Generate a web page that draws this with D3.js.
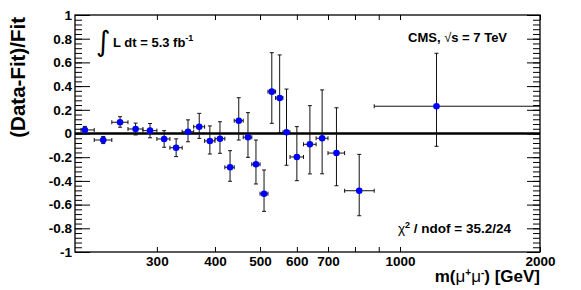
<!DOCTYPE html>
<meta charset="utf-8">
<html lang="en">
<head>
    <title>Data-Fit ratio</title>
    <script src="https://cdn.jsdelivr.net/npm/d3@7"></script>
</head>
<style>
    body{ margin: 0; background: white; }
    svg{ display: block; }
    text{
        font-family: "Liberation Sans", Arial, sans-serif;
        font-weight: bold;
        fill: black;
    }
    .axis line{ stroke: black; }
    .axis path{ display: none; }
</style>
<body>
<svg width="581" height="290"></svg>
<script>

    // dimuon mass bins (GeV)
    const mass    = [210,230,250,270,290,311,330,350,370,390,410,431,450,471,490,510,530,551,570,600,640,680,730,817,1198]
    const massLo  = [206,220,240,260,280,300,320,340,360,380,400,420,440,460,480,500,520,540,560,580,620,660,700,760,880]
    const massHi  = [220,240,260,280,300,320,340,360,380,400,420,440,460,480,500,520,540,560,580,620,660,700,760,880,3000]
    // (Data-Fit)/Fit
    const ratio   = [0.03,-0.055,0.095,0.038,0.024,-0.046,-0.12,0.015,0.057,-0.063,-0.044,-0.285,0.108,-0.032,-0.26,-0.508,0.353,0.30,0.01,-0.198,-0.091,-0.04,-0.165,-0.483,0.23]
    const errUp   = [0.03,0.03,0.047,0.05,0.06,0.07,0.075,0.1,0.113,0.127,0.143,0.14,0.194,0.208,0.205,0.2,0.329,0.363,0.365,0.256,0.326,0.408,0.382,0.307,0.447]
    const errDown = [0.03,0.03,0.042,0.05,0.06,0.07,0.075,0.085,0.098,0.11,0.123,0.118,0.163,0.169,0.166,0.149,0.267,0.293,0.278,0.2,0.25,0.3,0.276,0.211,0.338]

    const xTicks = [300,400,500,600,700,800,900,1000,2000]
    const xLabels = [300,400,500,600,700,1000,2000]
    const yLabels = [-1,-0.8,-0.6,-0.4,-0.2,0,0.2,0.4,0.6,0.8,1]

    const L = 75, R = 540, T = 15, B = 252

    const svg = d3.select("svg")

    const x = d3.scaleLog().domain([200, 2000]).range([L, R])
    const y = d3.scaleLinear().domain([-1, 1]).range([B, T])

    const yMinor = d3.range(-25, 26).map(i => +(i * 0.04).toFixed(2))

    // axes (ticks pointing inward)
    svg.append("g").attr("class","axis").attr("transform",`translate(0,${B})`)
        .call(d3.axisBottom(x).tickValues(xTicks).tickSize(-5).tickPadding(4)
            .tickFormat(d => xLabels.includes(d) ? d : ""))
        .call(g => g.selectAll("text").style("font-size","13.5px"))
    svg.append("g").attr("class","axis").attr("transform",`translate(0,${T})`)
        .call(d3.axisTop(x).tickValues(xTicks).tickSize(-5).tickFormat(""))

    svg.append("g").attr("class","axis").attr("transform",`translate(${L},0)`)
        .call(d3.axisLeft(y).tickValues(yMinor).tickSize(-7).tickFormat(""))
    svg.append("g").attr("class","axis").attr("transform",`translate(${L},0)`)
        .call(d3.axisLeft(y).tickValues(yLabels).tickSize(-15).tickPadding(3)
            .tickFormat(d => String(d)))
        .call(g => g.selectAll("text").style("font-size","13.5px"))
    svg.append("g").attr("class","axis").attr("transform",`translate(${R},0)`)
        .call(d3.axisRight(y).tickValues(yMinor).tickSize(-7).tickFormat(""))
    svg.append("g").attr("class","axis").attr("transform",`translate(${R},0)`)
        .call(d3.axisRight(y).tickValues(yLabels).tickSize(-13).tickFormat(""))

    // frame
    svg.append("rect").attr("x", L).attr("y", T).attr("width", R - L).attr("height", B - T)
        .attr("fill","none").attr("stroke","black").attr("stroke-width",1.3)

    svg.append("clipPath").attr("id","plot")
        .append("rect").attr("x", L).attr("y", T).attr("width", R - L).attr("height", B - T)

    // zero line
    svg.append("line")
        .attr("x1", L).attr("x2", R).attr("y1", y(0)).attr("y2", y(0))
        .attr("stroke","black").attr("stroke-width",2.5)

    const pts = mass.map((m, i) => ({m, lo: massLo[i], hi: massHi[i], v: ratio[i], up: errUp[i], dn: errDown[i]}))

    const g = svg.append("g").attr("clip-path","url(#plot)")
    const p = g.selectAll("g.pt").data(pts).enter().append("g").attr("class","pt")
        .attr("stroke","#111").attr("stroke-width",1)

    p.append("line").attr("x1", d => x(d.lo)).attr("x2", d => x(d.hi))
        .attr("y1", d => y(d.v)).attr("y2", d => y(d.v))
    p.append("line").attr("x1", d => x(d.m)).attr("x2", d => x(d.m))
        .attr("y1", d => y(d.v - d.dn)).attr("y2", d => y(d.v + d.up))
    // end caps
    p.append("line").attr("x1", d => x(d.lo)).attr("x2", d => x(d.lo))
        .attr("y1", d => y(d.v) - 2).attr("y2", d => y(d.v) + 2)
    p.append("line").attr("x1", d => x(d.hi)).attr("x2", d => x(d.hi))
        .attr("y1", d => y(d.v) - 2).attr("y2", d => y(d.v) + 2)
    p.append("line").attr("x1", d => x(d.m) - 2).attr("x2", d => x(d.m) + 2)
        .attr("y1", d => y(d.v + d.up)).attr("y2", d => y(d.v + d.up))
    p.append("line").attr("x1", d => x(d.m) - 2).attr("x2", d => x(d.m) + 2)
        .attr("y1", d => y(d.v - d.dn)).attr("y2", d => y(d.v - d.dn))

    g.selectAll("circle").data(pts).enter().append("circle")
        .attr("cx", d => x(d.m)).attr("cy", d => y(d.v)).attr("r", 3.3)
        .attr("fill","#0000ff")

    // titles
    svg.append("text")
        .attr("transform","translate(25,17) rotate(-90)")
        .attr("text-anchor","end")
        .style("font-size","20.5px")
        .text("(Data-Fit)/Fit")

    const xt = svg.append("text").attr("x", R).attr("y", 282)
        .attr("text-anchor","end").style("font-size","17px")
    xt.append("tspan").text("m(")
    xt.append("tspan").style("font-weight","normal").text("\u03bc")
    xt.append("tspan").attr("dy",-6).style("font-size","10px").text("+")
    xt.append("tspan").attr("dy",6).style("font-weight","normal").text("\u03bc")
    xt.append("tspan").attr("dy",-6).style("font-size","10px").text("-")
    xt.append("tspan").attr("dy",6).text(") [GeV]")

    svg.append("text").attr("x", 96).attr("y", 51)
        .style("font-family","'DejaVu Sans', sans-serif").style("font-weight","normal")
        .style("font-size","28px").text("\u222b")
    const lum = svg.append("text").attr("x", 113).attr("y", 47).style("font-size","13px")
    lum.append("tspan").text("L dt = 5.3 fb")
    lum.append("tspan").attr("dy",-6).style("font-size","9px").text("-1")

    const cms = svg.append("text").attr("x", 408).attr("y", 42).style("font-size","13px")
    cms.append("tspan").text("CMS, ")
    cms.append("tspan").style("font-weight","normal").text("\u221a")
    cms.append("tspan").text("s = 7 TeV")

    const chi = svg.append("text").attr("x", 398).attr("y", 233).style("font-size","13.5px")
    chi.append("tspan").style("font-weight","normal").text("\u03c7")
    chi.append("tspan").attr("dy",-5).style("font-size","9px").text("2")
    chi.append("tspan").attr("dy",5).text(" / ndof = 35.2/24")
</script>
</body>
</html>
